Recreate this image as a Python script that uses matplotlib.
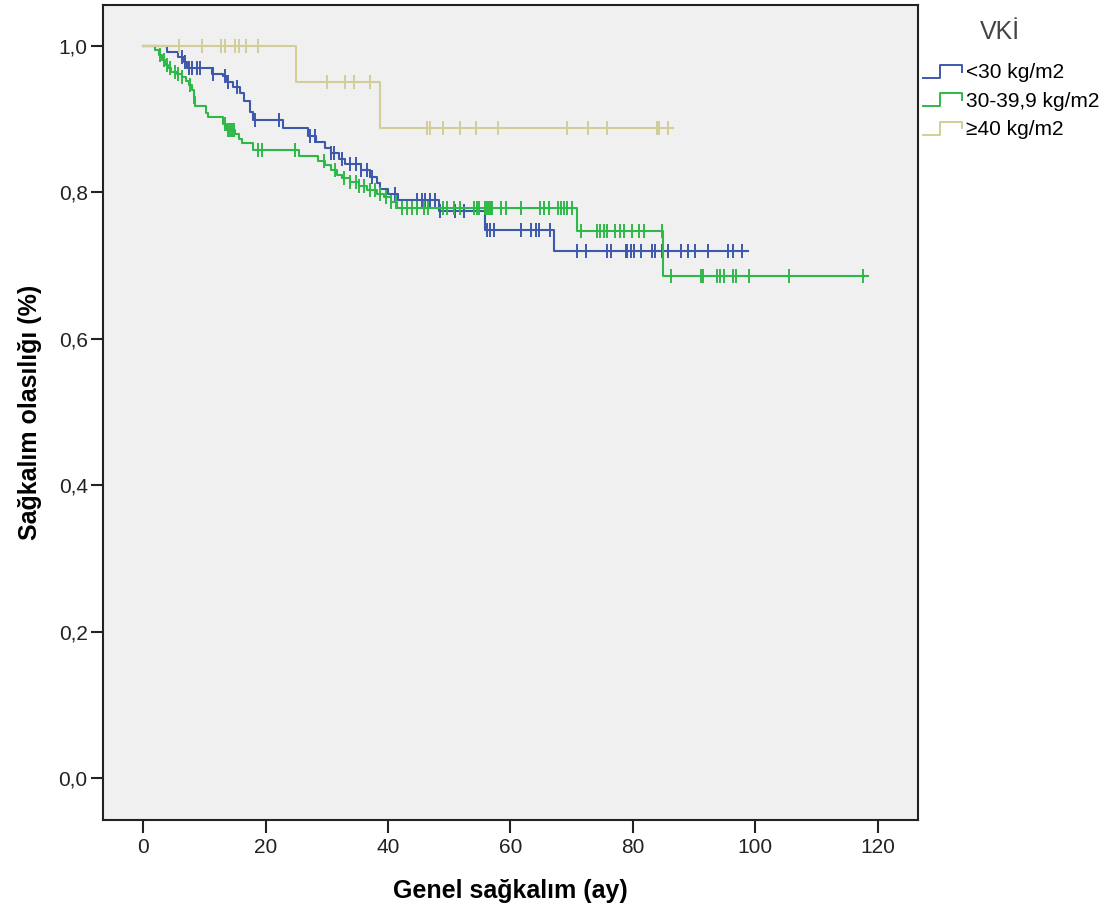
import numpy as np
import matplotlib
matplotlib.use("Agg")
import matplotlib.pyplot as plt
from matplotlib.lines import Line2D
from matplotlib.legend_handler import HandlerBase
from matplotlib.ticker import FuncFormatter

plt.rcParams['font.family'] = ['Liberation Sans', 'DejaVu Sans']

#################################data############################################
group_labels = ["<30 kg/m2", "30-39,9 kg/m2", "\u226540 kg/m2"]
group_colors = ["#3E58AC", "#2EB848", "#D3CE97"]

# <30 kg/m2 : event times (months) and survival after each event
blue_t = [3.9, 5.7, 6.6, 7.1, 11.2, 13.1, 13.6, 14.7, 15.8, 16.4, 17.5, 17.9, 22.9,
          26.9, 28.2, 29.7, 30.6, 31.9, 33.0, 35.5, 37.1, 38.2, 38.6, 40.0, 41.6,
          48.4, 55.8, 67.1]
blue_s = [0.991, 0.985, 0.978, 0.969, 0.962, 0.958, 0.951, 0.944, 0.935, 0.924, 0.910,
          0.898, 0.887, 0.877, 0.869, 0.861, 0.853, 0.846, 0.839, 0.830, 0.821, 0.813,
          0.805, 0.797, 0.789, 0.775, 0.749, 0.720]
blue_end = 98.8
blue_cens = [6.3, 6.8, 7.4, 7.9, 8.7, 9.3, 11.4, 13.3, 13.8, 15.3, 18.2, 22.2, 27.3, 28.1,
             30.6, 31.1, 32.5, 33.8, 34.7, 35.5, 36.6, 37.4, 41.2, 44.7, 45.6, 46.1, 46.9,
             47.7, 48.5, 51.0, 52.4, 56.2, 56.7, 57.3, 61.7, 63.3, 64.1, 64.7, 66.5, 70.9,
             72.3, 75.8, 76.4, 78.8, 79.1, 79.7, 80.2, 81.3, 83.2, 83.7, 84.8, 85.7, 87.8,
             89.0, 90.1, 92.2, 95.5, 96.3, 97.9]

# 30-39,9 kg/m2
green_t = [1.9, 2.5, 3.0, 3.6, 4.1, 4.6, 5.5, 6.3, 6.9, 7.4, 7.9, 8.2, 8.5, 10.2, 10.5,
           13.1, 13.5, 15.0, 15.6, 16.1, 18.0, 25.4, 28.6, 29.7, 30.6, 31.6, 32.5, 33.8,
           35.2, 36.6, 38.2, 39.3, 40.4, 41.5, 70.9, 85.0]
green_s = [0.994, 0.987, 0.980, 0.974, 0.969, 0.964, 0.961, 0.957, 0.952, 0.946, 0.939,
           0.930, 0.918, 0.908, 0.902, 0.893, 0.885, 0.880, 0.873, 0.867, 0.858, 0.850,
           0.842, 0.837, 0.830, 0.823, 0.819, 0.814, 0.809, 0.803, 0.798, 0.793, 0.787,
           0.779, 0.747, 0.685]
green_end = 118.4
green_cens = [2.7, 3.3, 3.8, 4.4, 5.2, 5.7, 6.3, 7.6, 8.3, 13.4, 13.9, 14.2, 14.5, 14.8,
              18.8, 19.4, 24.8, 29.5, 31.4, 32.8, 33.8, 34.7, 35.2, 36.0, 37.1, 37.9, 38.7,
              39.6, 40.4, 41.3, 42.3, 43.1, 43.9, 44.7, 45.8, 46.6, 49.0, 49.6, 50.7, 51.8,
              54.0, 54.5, 54.8, 55.9, 56.2, 56.5, 56.8, 57.0, 58.4, 59.2, 61.7, 64.9, 65.5,
              66.3, 67.7, 68.2, 68.7, 69.3, 70.1, 71.5, 74.2, 74.7, 75.3, 75.8, 77.1, 77.9,
              78.5, 79.9, 81.0, 81.8, 84.8, 86.3, 91.1, 91.4, 93.8, 94.3, 94.9, 96.3, 96.8,
              99.0, 105.5, 117.6]

# >=40 kg/m2
yellow_t = [24.9, 38.6]
yellow_s = [0.950, 0.887]
yellow_end = 86.5
yellow_cens = [5.9, 9.6, 12.7, 13.3, 14.9, 15.7, 16.8, 18.7, 30.0, 32.9, 34.4, 37.1,
               46.4, 46.9, 49.0, 51.8, 54.4, 57.9, 69.3, 72.7, 75.7, 83.9, 84.3, 85.7]

y_ticks = [0.0, 0.2, 0.4, 0.6, 0.8, 1.0]
x_ticks = [0, 20, 40, 60, 80, 100, 120]


#################################helpers############################################
def km_curve(t, s, end):
    xs = np.concatenate([[0.0], t, [end]])
    ys = np.concatenate([[1.0], s, [s[-1]]])
    return xs, ys


def surv_at(t, s, times):
    levels = np.concatenate([[1.0], s])
    idx = np.searchsorted(t, times, side='right')
    return levels[idx]


class StepHandler(HandlerBase):
    def create_artists(self, legend, orig_handle, xdescent, ydescent,
                       width, height, fontsize, trans):
        xs = np.array([0, 0.45, 0.45, 1.0, 1.0]) * width - xdescent
        ys = np.array([0.1, 0.1, 0.85, 0.85, 0.45]) * height - ydescent
        line = Line2D(xs, ys, color=orig_handle.get_color(), lw=1.4)
        line.set_transform(trans)
        return [line]


#################################plot############################################
fig = plt.figure(figsize=(11.13, 9.21), dpi=100)
ax = fig.add_axes([0.0925, 0.1097, 0.7323, 0.8849])
ax.set_facecolor("#F0F0F0")

series = [
    (blue_t, blue_s, blue_end, blue_cens),
    (green_t, green_s, green_end, green_cens),
    (yellow_t, yellow_s, yellow_end, yellow_cens),
]
handles = []
for (t, s, end, cens), color, label in zip(series, group_colors, group_labels):
    t = np.array(t)
    s = np.array(s)
    xs, ys = km_curve(t, s, end)
    h, = ax.step(xs, ys, where='post', color=color, lw=1.5, label=label)
    cens = np.array(cens)
    ax.plot(cens, surv_at(t, s, cens), ls='none', marker='|', markersize=10,
            markeredgewidth=1.4, color=color)
    handles.append(h)

ax.set_xlim(-6.6, 126.6)
ax.set_ylim(-0.057, 1.0556)
ax.set_xticks(x_ticks)
ax.set_yticks(y_ticks)
ax.yaxis.set_major_formatter(FuncFormatter(lambda v, p: f"{v:.1f}".replace('.', ',')))
ax.tick_params(axis='both', length=9, width=1.5, labelsize=15, color='#222222',
               labelcolor='#222222')
ax.tick_params(axis='x', pad=4)
ax.tick_params(axis='y', pad=2)
for sp in ax.spines.values():
    sp.set_linewidth(1.5)
    sp.set_color('#222222')

ax.set_xlabel("Genel sağkalım (ay)", fontsize=18, fontweight='bold', labelpad=16)
ax.set_ylabel("Sağkalım olasılığı (%)", fontsize=18, fontweight='bold', labelpad=12)

fig.text(0.898, 0.965, "VKİ", fontsize=18, color='#444444', ha='center', va='center')
fig.legend(handles=handles, labels=group_labels, loc='upper left',
           bbox_to_anchor=(0.829, 0.932), frameon=False, fontsize=15,
           handlelength=1.9, handleheight=0.9, handletextpad=0.2,
           labelspacing=0.4, borderpad=0, borderaxespad=0,
           handler_map={Line2D: StepHandler()})

fig.savefig("out.png", dpi=100, facecolor='white')
